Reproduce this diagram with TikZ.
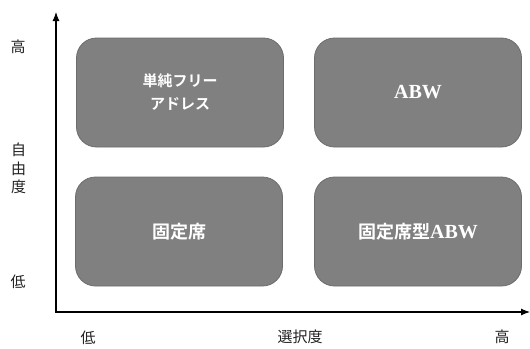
\documentclass[tikz,border=0pt]{standalone}
\usepackage{fontspec}
\setmainfont{Liberation Serif}
\newfontfamily\jp{Noto Sans CJK JP}
\newfontfamily\jpb{Noto Sans CJK JP Bold}
\usetikzlibrary{arrows.meta}
\definecolor{boxfill}{HTML}{808081}
\definecolor{boxedge}{HTML}{6C6C6C}
\definecolor{labelcol}{HTML}{222222}
\newcommand{\abwtext}{{\fontsize{20}{20}\selectfont\bfseries\rmfamily ABW}}
\tikzset{
  quad/.style={draw=boxedge, line width=0.8pt, fill=boxfill, rounded corners=20pt,
    minimum width=207pt, minimum height=109pt, inner sep=0pt, text=white,
    font=\fontsize{18}{22}\selectfont\jpb, align=center},
  axislabel/.style={text=labelcol, font=\fontsize{15}{18.5}\selectfont\jp, inner sep=0pt, align=center},
  axis/.style={line width=1.1pt, {Latex[length=9pt,width=7pt]}-{Latex[length=9pt,width=7pt]}}
}
\begin{document}
\begin{tikzpicture}[x=1pt,y=-1pt]
\useasboundingbox (0,0) rectangle (530,348);
\coordinate (top) at (56,12);
\coordinate (origin) at (56,312);
\coordinate (right) at (530,312);
\draw[axis] (top) -- (origin) -- (right);
\node[quad, font=\fontsize{15}{23}\selectfont\jpb] (tl) at (180,92.5) {単純フリー\\アドレス};
\node[quad] (tr) at (418,92.5) {\abwtext};
\node[quad] (bl) at (179,231.5) {固定席};
\node[quad] (br) at (418,231.5) {固定席型\abwtext};
\node[axislabel] (yhigh) at (18,47) {高};
\node[axislabel] (ylab) at (18.5,168.5) {自\\由\\度};
\node[axislabel] (ylow) at (18,282) {低};
\node[axislabel] (xlow) at (88,338) {低};
\node[axislabel] (xlab) at (300,337) {選択度};
\node[axislabel] (xhigh) at (502,337) {高};
\end{tikzpicture}
\end{document}
